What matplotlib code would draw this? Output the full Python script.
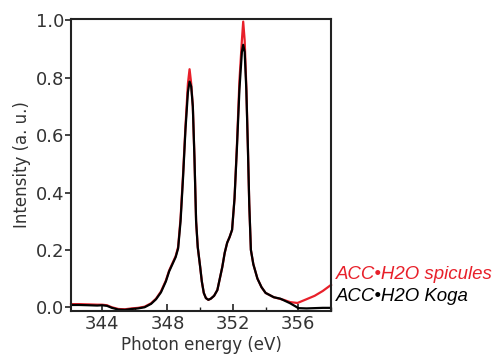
import matplotlib
matplotlib.use("Agg")
import matplotlib.pyplot as plt
from matplotlib.ticker import MultipleLocator

# Ca L-edge спектри
energy_koga = [342.1, 342.6, 343.2, 343.7, 344.0, 344.3, 344.6, 345.0, 345.4, 345.8,
               346.2, 346.6, 347.0, 347.3, 347.6, 347.9, 348.1, 348.3, 348.5, 348.65,
               348.8, 348.95, 349.1, 349.25, 349.35, 349.45, 349.55, 349.65, 349.75, 349.85,
               350.0, 350.1, 350.22, 350.35, 350.5, 350.65, 350.85, 351.05, 351.2, 351.35,
               351.5, 351.65, 351.8, 351.95, 352.1, 352.25, 352.4, 352.55, 352.63, 352.72,
               352.82, 352.92, 353.0, 353.1, 353.25, 353.5, 353.75, 354.0, 354.5, 354.9,
               355.2, 355.5, 355.8, 356.0, 356.5, 357.0, 357.5, 358.0]
int_koga = [0.008, 0.008, 0.007, 0.006, 0.007, 0.005, -0.002, -0.008, -0.009, -0.006,
            -0.004, 0.000, 0.012, 0.028, 0.052, 0.090, 0.125, 0.150, 0.175, 0.205,
            0.300, 0.450, 0.620, 0.750, 0.787, 0.770, 0.700, 0.520, 0.300, 0.210,
            0.140, 0.090, 0.050, 0.032, 0.026, 0.030, 0.040, 0.060, 0.100, 0.140,
            0.190, 0.225, 0.245, 0.270, 0.380, 0.560, 0.760, 0.890, 0.915, 0.890,
            0.760, 0.550, 0.360, 0.200, 0.150, 0.100, 0.070, 0.050, 0.035, 0.030,
            0.022, 0.014, 0.004, -0.003, -0.004, -0.003, -0.002, -0.002]

energy_spic = [342.1, 342.6, 343.2, 343.7, 344.0, 344.3, 344.6, 345.0, 345.4, 345.8,
               346.2, 346.6, 347.0, 347.3, 347.6, 347.9, 348.1, 348.3, 348.5, 348.65,
               348.8, 348.95, 349.1, 349.25, 349.35, 349.45, 349.55, 349.65, 349.75, 349.85,
               350.0, 350.1, 350.22, 350.35, 350.5, 350.65, 350.85, 351.05, 351.2, 351.35,
               351.5, 351.65, 351.8, 351.95, 352.1, 352.25, 352.4, 352.55, 352.63, 352.72,
               352.82, 352.92, 353.0, 353.1, 353.25, 353.5, 353.75, 354.0, 354.5, 355.1,
               355.5, 355.95, 356.5, 357.0, 357.5, 358.0]
int_spic = [0.011, 0.011, 0.010, 0.009, 0.009, 0.007, 0.000, -0.006, -0.007, -0.004,
            -0.002, 0.002, 0.014, 0.030, 0.055, 0.093, 0.128, 0.153, 0.178, 0.210,
            0.310, 0.460, 0.630, 0.780, 0.830, 0.780, 0.700, 0.520, 0.300, 0.210,
            0.140, 0.090, 0.050, 0.032, 0.026, 0.030, 0.040, 0.060, 0.100, 0.140,
            0.190, 0.225, 0.245, 0.270, 0.380, 0.570, 0.790, 0.930, 0.996, 0.930,
            0.770, 0.550, 0.360, 0.200, 0.150, 0.100, 0.070, 0.050, 0.035, 0.026,
            0.018, 0.015, 0.028, 0.040, 0.057, 0.078]

label_spic = "ACC•H2O spicules"
label_koga = "ACC•H2O Koga"

RED = "#e8202a"

plt.rcParams["font.family"] = ["DejaVu Sans"]

fig = plt.figure(figsize=(4.92, 3.56), dpi=100)
ax = fig.add_axes([0.1443, 0.1264, 0.5285, 0.8202])

ax.plot(energy_spic, int_spic, color=RED, lw=1.6, clip_on=False)
ax.plot(energy_koga, int_koga, color="black", lw=1.6)

ax.set_xlim(342.1, 358.0)
ax.set_ylim(-0.013, 1.005)

ax.xaxis.set_major_locator(MultipleLocator(4))
ax.xaxis.set_minor_locator(MultipleLocator(2))
ax.yaxis.set_major_locator(MultipleLocator(0.2))
ax.tick_params(axis="x", which="major", direction="in", length=5, width=1.2,
               labelsize=13, pad=3, colors="#222222", labelcolor="#333333")
ax.tick_params(axis="x", which="minor", direction="in", length=3, width=1.0,
               colors="#222222")
ax.tick_params(axis="y", which="major", direction="out", length=4, width=1.2,
               labelsize=13, pad=1, colors="#222222", labelcolor="#333333")
ax.yaxis.set_major_formatter(plt.FuncFormatter(lambda v, p: f"{v:.1f}"))

for s in ax.spines.values():
    s.set_linewidth(1.5)
    s.set_color("#222222")

ax.set_xlabel("Photon energy (eV)", fontsize=12, labelpad=2, color="#333333")
ax.set_ylabel("Intensity (a. u.)", fontsize=12, labelpad=3, color="#333333")

fig.text(0.683, 0.230, label_spic, color=RED, fontsize=13.4, style="italic",
         family=["Liberation Sans", "DejaVu Sans"], va="center")
fig.text(0.683, 0.168, label_koga, color="black", fontsize=13.4, style="italic",
         family=["Liberation Sans", "DejaVu Sans"], va="center")

fig.savefig("out.png", dpi=100)
